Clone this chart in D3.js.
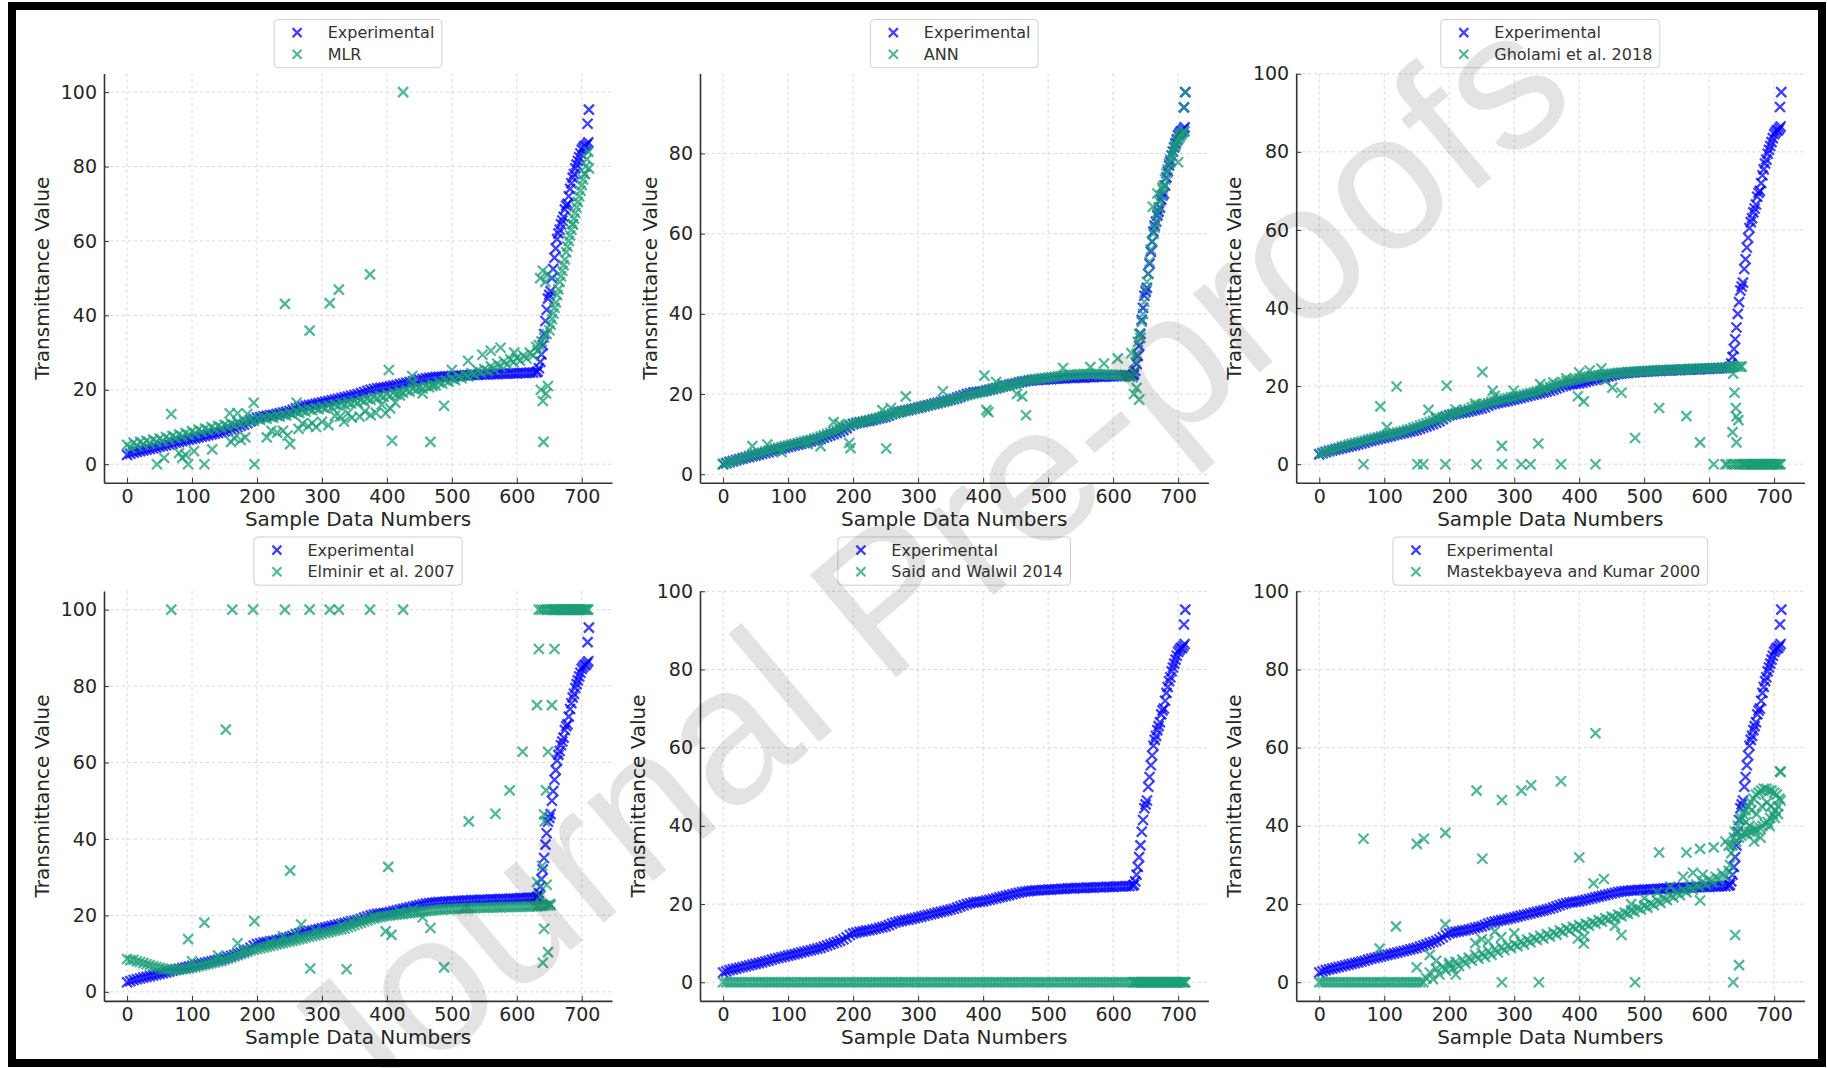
<!DOCTYPE html>
<html>
<head>
<meta charset="utf-8">
<script src="https://cdn.jsdelivr.net/npm/d3@7/dist/d3.min.js"></script>
<style>
  body { margin: 0; background: #fff; }
  svg text { font-family: "DejaVu Sans", sans-serif; }
</style>
</head>
<body>
<div id="chart"></div>
<script>
// Sample numbers: every 5th sample along the slow rise, every 2nd along the steep end
const bandSamples = d3.range(0, 631, 5);
const steepSamples = d3.range(632, 711, 2);

// Experimental transmittance (same in all six panels)
const expBand = [
  2.5, 2.8, 3.1, 3.3, 3.5, 3.7, 3.9, 4.1, 4.3, 4.5,
  4.7, 4.9, 5.1, 5.3, 5.5, 5.8, 6.0, 6.2, 6.4, 6.6,
  6.8, 7.0, 7.2, 7.4, 7.6, 7.8, 8.0, 8.2, 8.4, 8.6,
  8.8, 9.1, 9.4, 9.7, 10.0, 10.3, 10.6, 11.0, 11.5, 12.1,
  12.5, 12.7, 12.9, 13.0, 13.2, 13.3, 13.5, 13.7, 13.9, 14.1,
  14.3, 14.6, 15.0, 15.3, 15.5, 15.7, 15.9, 16.0, 16.2, 16.4,
  16.6, 16.8, 17.0, 17.2, 17.4, 17.6, 17.8, 18.0, 18.2, 18.4,
  18.6, 18.8, 19.1, 19.4, 19.7, 20.0, 20.2, 20.4, 20.5, 20.6,
  20.7, 20.9, 21.1, 21.3, 21.5, 21.7, 21.9, 22.1, 22.3, 22.5,
  22.7, 22.9, 23.1, 23.2, 23.3, 23.4, 23.5, 23.5, 23.6, 23.6,
  23.7, 23.7, 23.8, 23.8, 23.9, 23.9, 24.0, 24.0, 24.0, 24.1,
  24.1, 24.1, 24.2, 24.2, 24.2, 24.3, 24.3, 24.3, 24.4, 24.4,
  24.4, 24.5, 24.5, 24.5, 24.6, 24.6, 24.7
];
const expSteep = [
  24.9, 25.8, 27.5, 29.5, 32, 35, 38.5, 41.5, 44.5, 45.5,
  46.5, 50, 52.5, 55.5, 58, 60.5, 62, 63, 64.5, 65.5,
  66.5, 68.5, 69.5, 70, 72, 74, 75.5, 77, 78, 79.5,
  80.5, 81.5, 82.5, 83.5, 84.5, 85, 85.5, 85.5, 86, 86.5
];
const expExtra = [[709, 91.5], [711, 95.3]];

// MLR
const mlrBand = [
  5.2, 4.4, 5.8, 5.0, 6.0, 5.4, 6.3, 5.6, 6.6, 6.0,
  6.9, 6.2, 7.3, 6.6, 7.6, 7.0, 8.0, 7.4, 8.4, 7.8,
  8.9, 8.2, 9.3, 8.7, 9.6, 9.1, 10.0, 9.4, 10.3, 9.8,
  10.6, 10.1, 10.9, 10.5, 11.2, 10.8, 11.5, 11.2, 11.9, 11.6,
  12.3, 11.9, 12.5, 12.2, 12.8, 12.5, 13.1, 12.8, 13.4, 13.1,
  13.8, 13.4, 14.1, 13.8, 14.4, 14.1, 14.8, 14.5, 15.1, 14.8,
  15.4, 15.0, 15.7, 15.3, 16.0, 15.7, 16.3, 16.0, 16.6, 16.3,
  16.9, 16.5, 17.3, 16.9, 17.6, 17.3, 18.0, 17.7, 18.4, 18.1,
  18.8, 18.4, 19.2, 18.8, 19.5, 19.2, 19.9, 19.5, 20.3, 19.9,
  20.6, 20.3, 21.0, 20.7, 21.4, 21.2, 22.0, 21.7, 22.5, 22.2,
  23.0, 22.6, 23.5, 23.1, 24.0, 23.6, 24.5, 24.1, 25.2, 24.6,
  25.6, 25.0, 26.3, 25.5, 27.0, 26.2, 27.6, 26.8, 28.2, 27.4,
  28.6, 27.8, 29.2, 28.4, 30.0, 29.2, 31.5
];
const mlrSteep = [
  30.5, 32, 50, 33, 52, 34, 49, 35, 51, 36,
  37.5, 39, 40.5, 42, 43.5, 45.5, 47, 49, 50.5, 52,
  53.5, 55, 57, 58.5, 60, 61.5, 63, 64.5, 66, 67.5,
  69, 70.5, 72, 73.5, 75, 76.5, 78, 80, 82, 84
];
const mlrExtra = [
  [425, 100], [243, 43.1], [281, 35.9], [312, 43.3], [326, 46.9], [374, 51], [68, 13.5],
  [46, 0], [94, 0], [119, 0], [196, 0], [195, 16.5], [403, 25.3], [408, 6.3], [467, 6],
  [488, 15.7], [439, 23.7], [525, 27.8], [641, 6], [57, 1.7], [85, 1.7], [80, 3], [90, 2.5],
  [131, 4], [103, 3.5], [175, 6.5], [182, 7.2], [215, 7.2], [231, 8.5], [240, 9], [247, 7.7],
  [251, 5.4], [264, 9.5], [270, 10.9], [279, 10.2], [291, 10], [300, 11.4], [310, 10.5],
  [334, 11.4], [340, 13.7], [346, 12.5], [358, 12.8], [366, 14.2], [375, 13.2], [383, 13.8],
  [398, 13.7], [405, 15], [413, 16.5], [261, 16.5], [158, 13.7], [170, 13.7], [185, 13.5],
  [328, 12.8], [500, 25.3], [547, 29.4], [560, 30.5], [575, 31.3], [596, 30], [637, 20],
  [640, 17], [645, 19], [648, 21], [686, 64.5], [705, 78], [711, 79.5], [160, 6], [165, 7],
  [222, 9], [285, 11], [320, 13], [392, 16], [420, 18.5], [440, 22], [455, 19], [470, 21]
];

// ANN
const annBand = [
  2.6, 2.7, 2.9, 3.2, 3.5, 3.8, 4.1, 4.3, 4.6, 4.8,
  5.0, 5.2, 5.4, 5.7, 5.9, 6.1, 6.4, 6.6, 6.8, 7.0,
  7.2, 7.4, 7.6, 7.8, 8.0, 8.2, 8.4, 8.6, 8.9, 9.1,
  9.4, 9.7, 10.0, 10.3, 10.6, 10.9, 11.2, 11.6, 12.0, 12.3,
  12.6, 12.8, 13.0, 13.1, 13.3, 13.5, 13.7, 13.9, 14.1, 14.3,
  14.5, 14.7, 15.0, 15.2, 15.4, 15.6, 15.8, 16.0, 16.2, 16.4,
  16.5, 16.7, 16.9, 17.1, 17.3, 17.5, 17.7, 17.9, 18.1, 18.3,
  18.5, 18.7, 18.9, 19.2, 19.5, 19.7, 19.9, 20.1, 20.3, 20.5,
  20.6, 20.8, 21.0, 21.2, 21.4, 21.6, 21.8, 22.0, 22.2, 22.4,
  22.6, 22.8, 23.0, 23.2, 23.4, 23.6, 23.7, 23.8, 23.9, 24.0,
  24.1, 24.2, 24.3, 24.4, 24.5, 24.6, 24.7, 24.8, 24.8, 24.9,
  24.9, 25.0, 25.0, 25.0, 25.0, 25.0, 24.9, 24.9, 24.9, 24.8,
  24.8, 24.8, 24.7, 24.6, 24.5, 24.3, 24.2
];
const annSteep = [
  25.5, 28, 30, 33, 35, 34, 38, 40, 43, 46,
  48, 50, 53, 56, 58, 60, 61.5, 63, 65, 66.5,
  68, 69.5, 71, 72, 73.5, 75, 76, 77.5, 78.5, 79.5,
  80.5, 81.5, 82, 83, 83.5, 84, 84.5, 85, 85.5, 85.5
];
const annExtra = [
  [45, 7], [68, 7.4], [194, 7.8], [196, 6.5], [251, 6.4], [281, 19.4], [338, 20.7], [402, 24.6],
  [405, 16], [408, 15.5], [466, 14.7], [460, 19.4], [523, 26.5], [565, 26.7], [586, 27.6],
  [607, 28.9], [170, 13], [179, 12.5], [245, 16], [258, 16.5], [272, 15.5], [628, 30.2],
  [632, 20], [636, 21.5], [640, 18.6], [661, 66.7], [668, 70], [676, 71.5], [700, 77.8],
  [709, 91.5], [711, 95.3], [150, 7], [130, 7.5], [90, 5.5], [420, 23], [430, 22.5], [452, 20]
];

// Gholami et al. 2018
const ghoBand = [
  2.6, 2.9, 3.2, 3.5, 3.7, 4.0, 4.2, 4.5, 4.7, 5.0,
  5.2, 5.4, 5.6, 5.8, 6.0, 6.3, 6.5, 6.7, 6.9, 7.1,
  7.3, 7.5, 7.7, 7.9, 8.1, 8.3, 8.5, 8.8, 9.0, 9.3,
  9.6, 9.9, 10.2, 10.5, 10.8, 11.1, 11.4, 11.7, 12.0, 12.3,
  12.6, 12.8, 13.0, 13.2, 13.5, 13.8, 14.1, 14.5, 14.8, 15.0,
  15.2, 15.4, 15.6, 15.9, 16.1, 16.3, 16.5, 16.7, 16.9, 17.1,
  17.2, 17.4, 17.6, 17.8, 18.0, 18.2, 18.4, 18.6, 18.8, 19.1,
  19.4, 19.7, 20.0, 20.3, 20.6, 20.9, 21.2, 21.4, 21.6, 21.8,
  22.0, 22.2, 22.4, 22.5, 22.6, 22.7, 22.8, 22.9, 23.0, 23.1,
  23.2, 23.3, 23.4, 23.5, 23.5, 23.6, 23.6, 23.7, 23.7, 23.8,
  23.8, 23.9, 23.9, 24.0, 24.0, 24.1, 24.1, 24.1, 24.2, 24.2,
  24.2, 24.3, 24.3, 24.3, 24.4, 24.4, 24.4, 24.5, 24.5, 24.5,
  24.6, 24.6, 24.6, 24.7, 24.7, 24.8, 24.8
];
const ghoSteep = [
  25, 0, 25, 0, 25, 0, 25, 0, 25, 0,
  0, 0, 0, 0, 0, 0, 0, 0, 0, 0,
  0, 0, 0, 0, 0, 0, 0, 0, 0, 0,
  0, 0, 0, 0, 0, 0, 0, 0, 0, 0
];
const ghoExtra = [
  [94, 14.8], [119, 19.9], [104, 9.5], [68, 0], [151, 0], [160, 0], [194, 0], [196, 20.1],
  [168, 13.9], [242, 0], [251, 23.6], [267, 18.8], [281, 4.7], [281, 0], [299, 18.8], [311, 0],
  [325, 0], [337, 5.3], [372, 0], [425, 0], [398, 17.4], [407, 16.1], [416, 24], [434, 24.5],
  [451, 19.6], [465, 18.3], [486, 6.7], [523, 14.4], [565, 12.3], [586, 5.6], [607, 0],
  [625, 0], [628, 0], [637, 23.2], [639, 18.3], [641, 14.4], [642, 12.2], [636, 8.2],
  [642, 5.6], [645, 11.3], [650, 25], [180, 12], [210, 14], [240, 15.5], [270, 17.5],
  [340, 20.5], [345, 19.5], [360, 21], [380, 22], [400, 23.5], [420, 22.5], [440, 21.5]
];

// Elminir et al. 2007
const elmBand = [
  8.6, 8.3, 8.4, 8.0, 7.8, 7.5, 7.2, 7.0, 6.7, 6.5,
  6.3, 6.1, 5.9, 5.8, 5.7, 5.7, 5.8, 5.9, 6.0, 6.1,
  6.3, 6.5, 6.7, 6.9, 7.1, 7.3, 7.5, 7.7, 7.9, 8.1,
  8.4, 8.7, 9.0, 9.3, 9.6, 9.9, 10.2, 10.5, 10.8, 11.0,
  11.2, 11.4, 11.6, 11.8, 12.0, 12.2, 12.4, 12.6, 12.8, 13.0,
  13.2, 13.4, 13.6, 13.8, 14.0, 14.2, 14.4, 14.6, 14.8, 15.0,
  15.2, 15.4, 15.6, 15.8, 16.0, 16.2, 16.4, 16.6, 16.9, 17.2,
  17.5, 17.8, 18.1, 18.4, 18.7, 19.0, 19.2, 19.4, 19.6, 19.8,
  19.9, 20.0, 20.1, 20.2, 20.3, 20.4, 20.5, 20.6, 20.7, 20.8,
  20.9, 21.0, 21.1, 21.2, 21.3, 21.4, 21.5, 21.5, 21.6, 21.6,
  21.7, 21.7, 21.8, 21.8, 21.8, 21.9, 21.9, 21.9, 22.0, 22.0,
  22.0, 22.0, 22.1, 22.1, 22.1, 22.1, 22.2, 22.2, 22.2, 22.2,
  22.2, 22.3, 22.3, 22.3, 22.3, 22.4, 22.4
];
const elmSteep = [
  22.4, 100, 22.5, 100, 22.5, 100, 22.6, 100, 22.6, 100,
  22.7, 100, 100, 100, 100, 100, 100, 100, 100, 100,
  100, 100, 100, 100, 100, 100, 100, 100, 100, 100,
  100, 100, 100, 100, 100, 100, 100, 100, 100, 100
];
const elmExtra = [
  [68, 100], [162, 100], [194, 100], [243, 100], [281, 100], [312, 100], [326, 100], [374, 100],
  [425, 100], [152, 68.6], [94, 13.8], [119, 18.1], [196, 18.5], [170, 12.7], [251, 31.7],
  [268, 17.6], [282, 6.1], [338, 5.9], [402, 32.7], [398, 15.8], [407, 14.9], [467, 16.7],
  [488, 6.4], [526, 44.6], [567, 46.6], [589, 52.7], [609, 62.8], [634, 89.7], [658, 89.7],
  [631, 75], [654, 75], [648, 62.8], [645, 52.7], [642, 46.4], [643, 44.6], [631, 28.7],
  [639, 33], [642, 16.5], [648, 10.4], [640, 7.6], [651, 23], [636, 25], [646, 28],
  [100, 8], [140, 9.5], [180, 11], [220, 13], [240, 14.5], [260, 15.2], [290, 16], [330, 17.5],
  [345, 18.5], [360, 19], [380, 19.5], [420, 21], [440, 21.5], [455, 19.5]
];

// Said and Walwil 2014
const saidBand = [
  0, 0, 0, 0, 0, 0, 0, 0, 0, 0, 0, 0, 0, 0, 0, 0, 0, 0, 0, 0,
  0, 0, 0, 0, 0, 0, 0, 0, 0, 0, 0, 0, 0, 0, 0, 0, 0, 0, 0, 0,
  0, 0, 0, 0, 0, 0, 0, 0, 0, 0, 0, 0, 0, 0, 0, 0, 0, 0, 0, 0,
  0, 0, 0, 0, 0, 0, 0, 0, 0, 0, 0, 0, 0, 0, 0, 0, 0, 0, 0, 0,
  0, 0, 0, 0, 0, 0, 0, 0, 0, 0, 0, 0, 0, 0, 0, 0, 0, 0, 0, 0,
  0, 0, 0, 0, 0, 0, 0, 0, 0, 0, 0, 0, 0, 0, 0, 0, 0, 0, 0, 0,
  0, 0, 0, 0, 0, 0, 0
];
const saidSteep = [
  0, 0, 0, 0, 0, 0, 0, 0, 0, 0, 0, 0, 0, 0, 0, 0, 0, 0, 0, 0,
  0, 0, 0, 0, 0, 0, 0, 0, 0, 0, 0, 0, 0, 0, 0, 0, 0, 0, 0, 0
];
const saidExtra = [[711, 0]];

// Mastekbayeva and Kumar 2000
const masBand = [
  0, 0, 0, 0, 0, 0, 0, 0, 0, 0, 0, 0, 0, 0, 0, 0, 0, 0, 0, 0,
  0, 0, 0, 0, 0, 0, 0, 0, 0, 0, 0, 0, 0,
  1.0, 2.5, 0.8, 3.5, 2.0, 4.0, 3.0,
  4.5, 3.5, 5.2, 4.2, 5.8, 4.8, 6.3, 5.5, 7.0, 6.0,
  7.4, 6.5, 8.0, 7.0, 8.5, 7.6, 9.0, 8.2, 9.4, 8.8,
  9.8, 9.2, 10.4, 9.7, 10.9, 10.2, 11.4, 10.8, 11.9, 11.2,
  12.3, 11.7, 12.8, 12.2, 13.3, 12.8, 13.8, 13.2, 14.2, 13.7,
  14.6, 14.0, 15.0, 14.5, 15.4, 15.0, 15.9, 15.5, 16.4, 16.0,
  16.8, 16.4, 17.3, 16.9, 17.8, 17.5, 18.4, 18.0, 19.0, 18.6,
  19.6, 19.1, 20.2, 19.7, 20.9, 20.3, 21.6, 21.0, 22.3, 21.7,
  23.0, 22.3, 23.7, 23.0, 24.4, 23.7, 25.0, 24.4, 25.7, 25.0,
  26.3, 25.6, 27.0, 26.3, 27.8, 27.0, 28.5
];
const masSteep = [
  30, 33, 35, 37, 38.5, 36, 40, 37, 41.5, 37.5,
  43, 38, 44, 38, 45, 38.5, 46, 38.5, 47, 39,
  48, 39, 48.5, 39.5, 49, 40, 49.5, 40.5, 49.5, 41,
  49, 42, 49, 43, 48.5, 44, 48, 45, 47, 46.5
];
const masExtra = [
  [68, 36.7], [150, 35.4], [161, 36.7], [194, 38.2], [242, 49], [251, 31.6], [281, 46.6],
  [311, 49], [326, 50.4], [372, 51.4], [425, 63.7], [93, 8.6], [118, 14.3], [150, 3.8],
  [194, 14.8], [281, 0], [338, 0], [486, 0], [637, 0], [400, 31.9], [422, 25.3], [438, 26.4],
  [398, 11.2], [407, 9.9], [408, 11.7], [465, 12.1], [523, 33.2], [565, 33.2], [586, 34.1],
  [607, 34.5], [586, 20.9], [640, 12.1], [646, 4.4], [709, 53.9], [710, 53.8], [625, 36],
  [630, 35], [560, 27], [575, 28], [590, 27.5], [520, 23], [540, 24.5], [270, 13], [280, 11.5],
  [300, 12.5], [240, 10], [250, 11], [260, 10.5], [170, 7], [180, 5.5], [200, 5], [210, 2],
  [455, 14.5], [480, 20], [500, 21.5], [650, 42], [657, 41], [665, 44], [673, 43], [681, 45],
  [689, 46], [695, 45], [701, 42], [706, 43], [679, 37], [669, 36], [662, 40], [693, 40]
];

const modelNames = ['MLR', 'ANN', 'Gholami et al. 2018', 'Elminir et al. 2007',
  'Said and Walwil 2014', 'Mastekbayeva and Kumar 2000'];
const xTicks = [0, 100, 200, 300, 400, 500, 600, 700];

// ---------- layout ----------
const width = 1827, height = 1068;
const colX = [[104, 612], [700, 1208.4], [1296.2, 1804.4]];
const rowY = [[73.5, 482.8], [591, 1000.9]];

const expColor = 'blue';
const modelColor = '#1b9e77';
const markAlpha = 0.75;

function toPoints(band, steep, extra) {
  return bandSamples.map((s, i) => [s, band[i]])
    .concat(steepSamples.map((s, i) => [s, steep[i]]))
    .concat(extra);
}

const expPoints = toPoints(expBand, expSteep, expExtra);
const models = [
  toPoints(mlrBand, mlrSteep, mlrExtra),
  toPoints(annBand, annSteep, annExtra),
  toPoints(ghoBand, ghoSteep, ghoExtra),
  toPoints(elmBand, elmSteep, elmExtra),
  toPoints(saidBand, saidSteep, saidExtra),
  toPoints(masBand, masSteep, masExtra)
];

const svg = d3.select('#chart').append('svg')
  .attr('width', width)
  .attr('height', height);

svg.append('rect').attr('width', width).attr('height', height).attr('fill', '#fff');

const xMark = 'M-5,-5L5,5M-5,5L5,-5';

// pad a data extent by 5% each side, like matplotlib's default margins
function padded(ext) {
  const r = ext[1] - ext[0];
  return [ext[0] - 0.05 * r, ext[1] + 0.05 * r];
}

models.forEach((modelPts, k) => {
  const [x0, x1] = colX[k % 3];
  const [y0, y1] = rowY[Math.floor(k / 3)];
  const w = x1 - x0, h = y1 - y0;

  const all = expPoints.concat(modelPts);
  const x = d3.scaleLinear().domain(padded(d3.extent(all, d => d[0]))).range([0, w]);
  const y = d3.scaleLinear().domain(padded(d3.extent(all, d => d[1]))).range([h, 0]);
  const yTicks = d3.range(0, 101, 20).filter(v => v >= y.domain()[0] && v <= y.domain()[1]);

  const g = svg.append('g').attr('transform', `translate(${x0},${y0})`);

  // dashed grid
  g.append('g').selectAll('line.vg')
    .data(xTicks).enter().append('line')
    .attr('x1', d => x(d)).attr('x2', d => x(d))
    .attr('y1', 0).attr('y2', h)
    .attr('stroke', '#cfcfcf').attr('stroke-width', 0.8).attr('stroke-dasharray', '3,3');
  g.append('g').selectAll('line.hg')
    .data(yTicks).enter().append('line')
    .attr('x1', 0).attr('x2', w)
    .attr('y1', d => y(d)).attr('y2', d => y(d))
    .attr('stroke', '#cfcfcf').attr('stroke-width', 0.8).attr('stroke-dasharray', '3,3');

  // experimental marks, then the model on top
  g.append('g').selectAll('path')
    .data(expPoints).enter().append('path')
    .attr('d', xMark)
    .attr('transform', d => `translate(${x(d[0])},${y(d[1])})`)
    .attr('fill', 'none').attr('stroke', expColor)
    .attr('stroke-width', 2.3).attr('stroke-opacity', markAlpha);

  g.append('g').selectAll('path')
    .data(modelPts).enter().append('path')
    .attr('d', xMark)
    .attr('transform', d => `translate(${x(d[0])},${y(d[1])})`)
    .attr('fill', 'none').attr('stroke', modelColor)
    .attr('stroke-width', 2.3).attr('stroke-opacity', markAlpha);

  // axes with inward ticks
  const xAxis = d3.axisBottom(x).tickValues(xTicks).tickSizeInner(-5).tickSizeOuter(0).tickPadding(6.5);
  const yAxis = d3.axisLeft(y).tickValues(yTicks).tickSizeInner(-5).tickSizeOuter(0).tickPadding(7);

  const gx = g.append('g').attr('transform', `translate(0,${h})`).call(xAxis);
  const gy = g.append('g').call(yAxis);
  [gx, gy].forEach(ax => {
    ax.select('.domain').attr('stroke', '#333').attr('stroke-width', 1.6);
    ax.selectAll('.tick line').attr('stroke', '#333').attr('stroke-width', 1);
    ax.selectAll('text').style('font-size', '19px').attr('fill', '#262626');
  });

  const maxTickW = d3.max(gy.selectAll('text').nodes(), n => n.getComputedTextLength());

  // axis labels
  g.append('text')
    .attr('x', w / 2).attr('y', h + 43)
    .attr('text-anchor', 'middle')
    .style('font-size', '20px').attr('fill', '#262626')
    .text('Sample Data Numbers');

  g.append('text')
    .attr('transform', `translate(${-(7 + maxTickW + 18.7)},${h / 2}) rotate(-90)`)
    .attr('text-anchor', 'middle').attr('dy', '0.36em')
    .style('font-size', '20px').attr('fill', '#262626')
    .text('Transmittance Value');

  // legend above the axes
  const lg = g.append('g');
  const box = lg.append('rect')
    .attr('fill', '#fff').attr('fill-opacity', 0.8)
    .attr('stroke', '#d0d0d0').attr('stroke-width', 1).attr('rx', 4);
  const labels = ['Experimental', modelNames[k]];
  const colors = [expColor, modelColor];
  let textW = 0;
  labels.forEach((lab, i) => {
    const t = lg.append('text')
      .attr('x', 53.5).attr('y', 13.1 + i * 21.7).attr('dy', '0.35em')
      .style('font-size', '16px').attr('fill', '#333')
      .text(lab);
    textW = Math.max(textW, t.node().getComputedTextLength());
    lg.append('path')
      .attr('d', 'M-4.5,-4.5L4.5,4.5M-4.5,4.5L4.5,-4.5')
      .attr('transform', `translate(23,${13.1 + i * 21.7})`)
      .attr('fill', 'none').attr('stroke', colors[i])
      .attr('stroke-width', 2.2).attr('stroke-opacity', markAlpha);
  });
  const bw = textW + 61;
  box.attr('width', bw).attr('height', 48.2);
  lg.attr('transform', `translate(${w / 2 - bw / 2},${-54})`);
});

// watermark
svg.append('text')
  .attr('transform', 'translate(923,566) rotate(-40)')
  .attr('text-anchor', 'middle')
  .attr('dominant-baseline', 'central')
  .style('font-family', '"Liberation Sans", Arial, sans-serif')
  .style('font-size', '195px')
  .attr('fill', '#000').attr('fill-opacity', 0.11)
  .text('Journal Pre-proofs');

// black frame round the figure
svg.append('rect')
  .attr('x', 12).attr('y', 6)
  .attr('width', 1810).attr('height', 1057)
  .attr('fill', 'none').attr('stroke', '#000').attr('stroke-width', 8);
</script>
</body>
</html>
